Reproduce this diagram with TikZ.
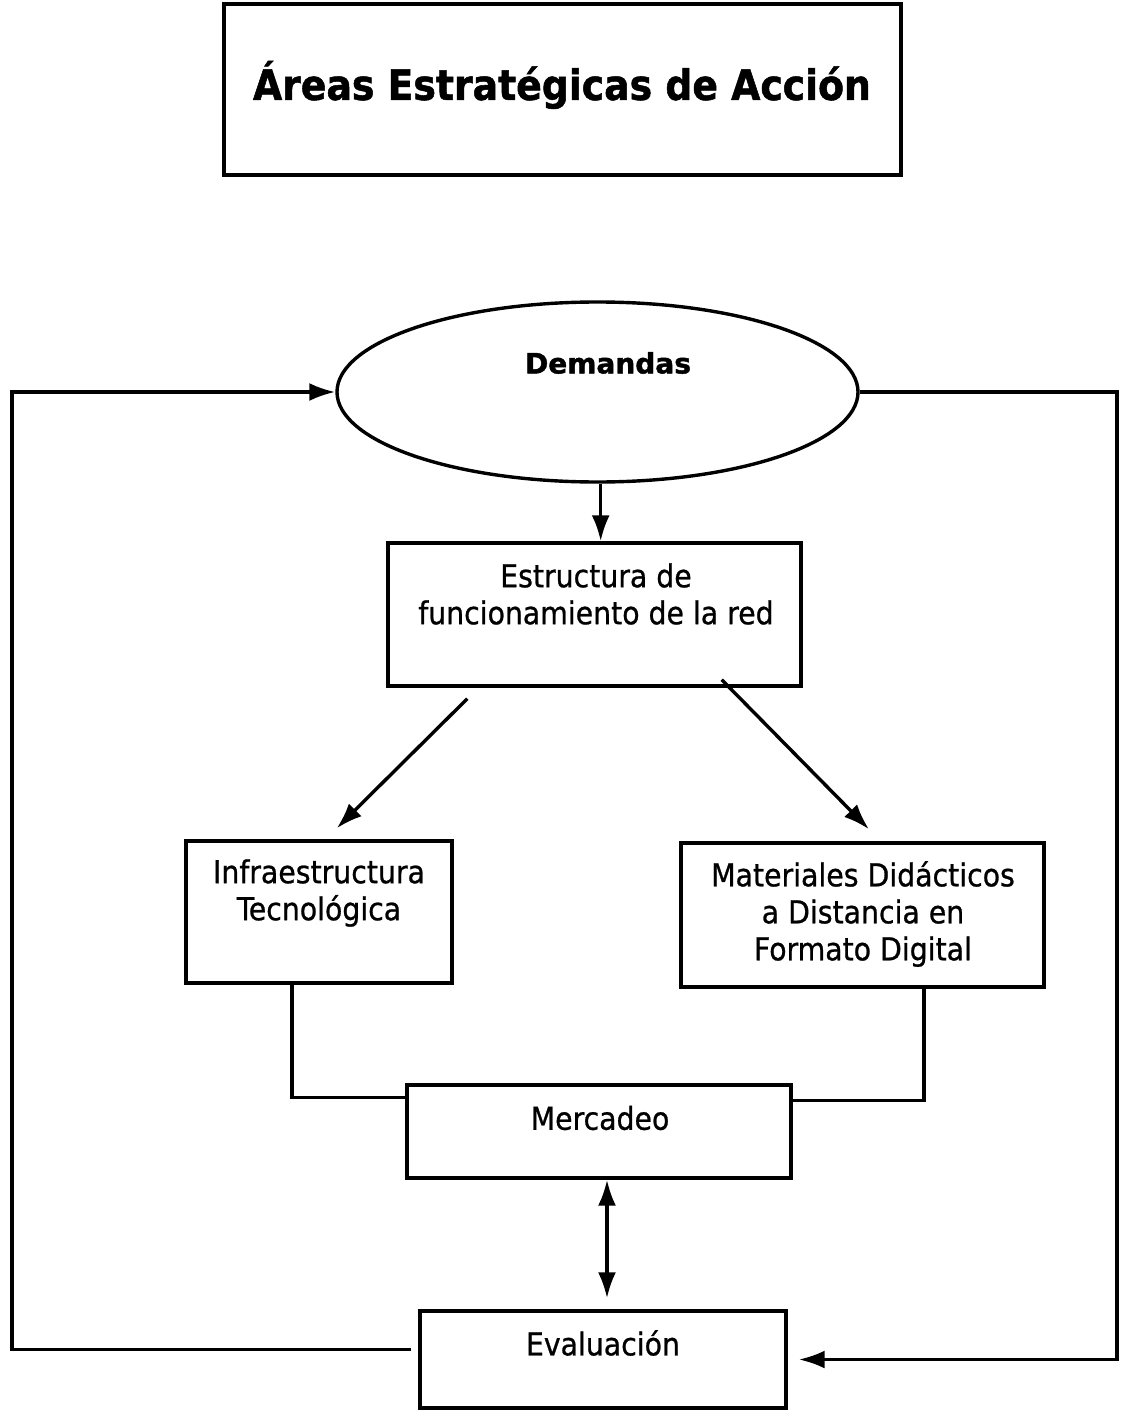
\documentclass[tikz,border=0pt]{standalone}
\usepackage{fontspec}
\setmainfont{DejaVu Sans Condensed}[FakeBold=0.8]
\newfontfamily\titlefont{DejaVu Sans Condensed Bold}[FakeBold=1.2]
\newfontfamily\demfont{DejaVu Sans Bold}[FakeBold=1.5]
\usetikzlibrary{arrows.meta,shapes.geometric,calc}
\tikzset{
  box/.style={draw, rectangle, inner sep=0pt},
  oval/.style={draw, ellipse, inner sep=0pt},
  boxtext/.style={align=center, inner sep=0pt, font=\fontsize{31.5bp}{37bp}\selectfont},
}
\begin{document}
\begin{tikzpicture}[x=1bp,y=-1bp,>={Latex[length=26bp,width=18bp]},line join=miter,line width=3.4bp]
  \useasboundingbox (0,0) rectangle (1120,1410);
%%
  % Node: titulo
  \node[box, minimum width=677bp, minimum height=171bp] (titulo) at (562.5,89.5) {};
  \node[inner sep=0pt, font=\titlefont\fontsize{42bp}{48bp}\selectfont] (titulotxt) at (562,85) {Áreas Estratégicas de Acción};
  % Node: demandas
  \node[oval, minimum width=521bp, minimum height=180bp] (demandas) at (597.5,392) {};
  \node[inner sep=0pt, font=\demfont\fontsize{28bp}{34bp}\selectfont] (demandastxt) at (608,363) {Demandas};
  % Node: estructura
  \node[box, minimum width=413bp, minimum height=143bp] (estructura) at (594.5,614.5) {};
  \node[boxtext] (estructuratxt) at (596,594) {Estructura de\\funcionamiento de la red};
  % Node: infra
  \node[box, minimum width=266bp, minimum height=142bp] (infra) at (319,912) {};
  \node[boxtext] (infratxt) at (319,893) {Infraestructura\\Tecnológica};
  % Node: materiales
  \node[box, minimum width=363bp, minimum height=144bp] (materiales) at (862.5,915) {};
  \node[boxtext] (materialestxt) at (863,914) {Materiales Didácticos\\a Distancia en\\Formato Digital};
  % Node: mercadeo
  \node[box, minimum width=384bp, minimum height=93bp] (mercadeo) at (599,1131.5) {};
  \node[boxtext] (mercadeotxt) at (600,1118) {Mercadeo};
  % Node: evaluacion
  \node[box, minimum width=366bp, minimum height=97bp] (evaluacion) at (603,1359.5) {};
  \node[boxtext] (evaluaciontxt) at (603,1343) {Evaluación};
%
  \coordinate (izq) at (12,392);
  \coordinate (der) at (1117,392);
  % Edge: demandas -> estructura
  \draw[->] (demandas.-88) -- (demandas.-88 |- estructura.north);
  % Edge: estructura -> infra
  \draw[->] ($(estructura.south west)+(81,11)$) -- ($(infra.north east)+(-117,-11)$);
  % Edge: estructura -> materiales
  \draw[->] ($(estructura.south east)+(-81,-8)$) -- ($(materiales.north)+(6.5,-12)$);
  % Edge: infra -- mercadeo
  \draw ($(infra.south)+(-27,0)$) |- ($(mercadeo.north west)+(0,14)$);
  % Edge: materiales -- mercadeo
  \draw ($(materiales.south)+(61.5,0)$) |- ($(mercadeo.north east)+(0,17)$);
  % Edge: mercadeo <-> evaluacion
  \draw[<->] ($(mercadeo.south)+(8,0)$) -- ($(evaluacion.north)+(4,-11)$);
  % Edge: evaluacion -> demandas
  \draw[->] ($(evaluacion.west)+(-7,-10)$) -| (izq) -- (demandas.west);
  % Edge: demandas -> evaluacion
  \draw[->] (demandas.east) -- (der) |- ($(evaluacion.east)+(11,0)$);
%
\end{tikzpicture}
\end{document}
